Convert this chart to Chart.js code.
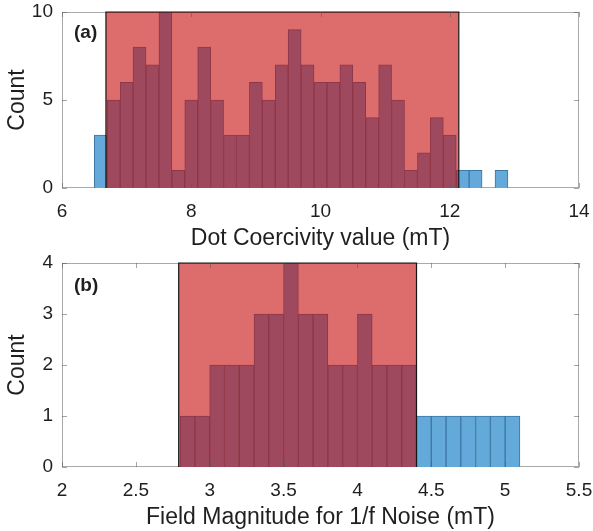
<!DOCTYPE html>
<html>
<head>
<meta charset="utf-8">
<script src="https://cdn.jsdelivr.net/npm/chart.js@4/dist/chart.umd.min.js"></script>
<style>
html, body { margin: 0; padding: 0; background: #fff; }
#wrap { position: relative; width: 593px; height: 531px; }
.pane { position: absolute; left: 0; width: 593px; }
</style>
</head>
<body>
<div id="wrap">
    <div class="pane" style="top:0;height:250px"><canvas id="chart-a"></canvas></div>
    <div class="pane" style="top:250px;height:281px"><canvas id="chart-b"></canvas></div>
</div>
<script>
/* ── (a) Dot coercivity histogram, bin width 0.2 mT ── */
const coerBins = [6.6, 6.8, 7.0, 7.2, 7.4, 7.6, 7.8, 8.0, 8.2, 8.4, 8.6, 8.8, 9.0, 9.2, 9.4, 9.6,
    9.8, 10.0, 10.2, 10.4, 10.6, 10.8, 11.0, 11.2, 11.4, 11.6, 11.8, 12.0, 12.2, 12.4, 12.6, 12.8];
const coerCounts = [3, 5, 6, 8, 7, 10, 1, 5, 8, 5, 3, 3, 6, 5, 7, 9,
    7, 6, 6, 7, 6, 4, 7, 5, 1, 2, 4, 3, 1, 1, 0, 1];
const coerBand = [6.68, 12.14];
const coerTicksX = [6, 8, 10, 12, 14];
const coerTicksY = [0, 5, 10];

/* ── (b) 1/f noise field magnitude histogram, bin width 0.1 mT ── */
const noiseBins = [2.85, 2.95, 3.05, 3.15, 3.25, 3.35, 3.45, 3.55, 3.65, 3.75, 3.85, 3.95,
    4.05, 4.15, 4.25, 4.35, 4.45, 4.55, 4.65, 4.75, 4.85, 4.95, 5.05];
const noiseCounts = [1, 1, 2, 2, 2, 3, 3, 4, 3, 3, 2, 2,
    3, 2, 2, 2, 1, 1, 1, 1, 1, 1, 1];
const noiseBand = [2.79, 4.40];
const noiseTicksX = [2, 2.5, 3, 3.5, 4, 4.5, 5, 5.5];
const noiseTicksY = [0, 1, 2, 3, 4];

const FONT = '"Liberation Sans", Arial, Helvetica, sans-serif';
const TXT = '#1f1f1f';
const FRAME = '#a9a9a9';
const BLUE = '#63a9d9';
const BLUE_EDGE = '#3c78a4';
const BAND = 'rgba(198, 10, 10, 0.6)';

// 灰色边框 + 向内刻度
const framePlugin = {
    id: 'frame',
    beforeDatasetsDraw(chart) {
        const { ctx, chartArea: a } = chart;
        ctx.save();
        ctx.strokeStyle = FRAME;
        ctx.lineWidth = 1;
        ctx.strokeRect(a.left + 0.5, a.top + 0.5, a.right - a.left - 1, a.bottom - a.top - 1);
        ctx.restore();
    },
    afterDatasetsDraw(chart) {
        const { ctx, chartArea: a, scales } = chart;
        const len = 5;
        ctx.save();
        ctx.strokeStyle = 'rgba(90,90,90,0.55)';
        ctx.lineWidth = 1;
        ctx.beginPath();
        scales.x.ticks.forEach(t => {
            const px = Math.round(scales.x.getPixelForValue(t.value)) + 0.5;
            ctx.moveTo(px, a.bottom); ctx.lineTo(px, a.bottom - len);
            ctx.moveTo(px, a.top); ctx.lineTo(px, a.top + len);
        });
        scales.y.ticks.forEach(t => {
            const py = Math.round(scales.y.getPixelForValue(t.value)) + 0.5;
            ctx.moveTo(a.left, py); ctx.lineTo(a.left + len, py);
            ctx.moveTo(a.right, py); ctx.lineTo(a.right - len, py);
        });
        ctx.stroke();
        const tag = chart.options.plugins.frame.tag;
        ctx.fillStyle = TXT;
        ctx.font = 'bold 19px ' + FONT;
        ctx.textBaseline = 'alphabetic';
        ctx.fillText(tag.text, a.left + 12, a.top + tag.dy);
        ctx.restore();
    },
};

function makeHist(id, cfg) {
    const canvas = document.getElementById(id);
    return new Chart(canvas, {
        type: 'bar',
        data: {
            datasets: [{
                type: 'line',
                data: [
                    { x: cfg.band[0], y: 0 }, { x: cfg.band[0], y: cfg.yMax },
                    { x: cfg.band[1], y: cfg.yMax }, { x: cfg.band[1], y: 0 },
                ],
                fill: 'origin',
                backgroundColor: BAND,
                borderColor: '#151515',
                borderWidth: 1.2,
                pointRadius: 0,
                tension: 0,
                clip: false,
                order: 0,
            }, {
                type: 'bar',
                data: cfg.bins.map((b, i) => ({ x: b, y: cfg.counts[i] })),
                backgroundColor: BLUE,
                borderColor: BLUE_EDGE,
                borderWidth: 1,
                barPercentage: 1,
                categoryPercentage: 1,
                order: 1,
            }],
        },
        options: {
            responsive: true,
            maintainAspectRatio: false,
            animation: false,
            layout: { padding: { left: 0, right: 14, top: cfg.top, bottom: 0 } },
            plugins: {
                legend: { display: false },
                tooltip: { enabled: false },
                frame: { tag: cfg.tag },
            },
            scales: {
                x: {
                    type: 'linear',
                    min: cfg.xTicks[0],
                    max: cfg.xTicks[cfg.xTicks.length - 1],
                    offset: false,
                    grid: { display: false, drawTicks: false },
                    border: { display: false },
                    afterBuildTicks: (s) => { s.ticks = cfg.xTicks.map(v => ({ value: v })); },
                    afterFit: (s) => { s.height = cfg.xAxisH; s.paddingLeft = 0; s.paddingRight = 0; },
                    ticks: {
                        autoSkip: false, maxRotation: 0, padding: 12,
                        color: TXT, font: { family: FONT, size: 19 },
                        callback: (v) => String(v),
                    },
                    title: {
                        display: true, text: cfg.xTitle, color: TXT,
                        font: { family: FONT, size: 23 }, padding: { top: 0, bottom: cfg.titlePad },
                    },
                },
                y: {
                    min: 0,
                    max: cfg.yMax,
                    grid: { display: false, drawTicks: false },
                    border: { display: false },
                    afterBuildTicks: (s) => { s.ticks = cfg.yTicks.map(v => ({ value: v })); },
                    afterFit: (s) => { s.width = 62; s.paddingTop = 0; s.paddingBottom = 0; },
                    ticks: {
                        padding: 9,
                        color: TXT, font: { family: FONT, size: 19 },
                        callback: (v) => String(v),
                    },
                    title: {
                        display: true, text: 'Count', color: TXT,
                        font: { family: FONT, size: 23 }, padding: { top: 4, bottom: 0 },
                    },
                },
            },
        },
        plugins: [framePlugin],
    });
}

makeHist('chart-a', {
    bins: coerBins, counts: coerCounts, band: coerBand, yMax: 10,
    xTicks: coerTicksX, yTicks: coerTicksY, top: 12, xAxisH: 62, titlePad: -2,
    xTitle: 'Dot Coercivity value (mT)', tag: { text: '(a)', dy: 26 },
});
makeHist('chart-b', {
    bins: noiseBins, counts: noiseCounts, band: noiseBand, yMax: 4,
    xTicks: noiseTicksX, yTicks: noiseTicksY, top: 13, xAxisH: 64, titlePad: 0,
    xTitle: 'Field Magnitude for 1/f Noise (mT)', tag: { text: '(b)', dy: 28 },
});
</script>
</body>
</html>
